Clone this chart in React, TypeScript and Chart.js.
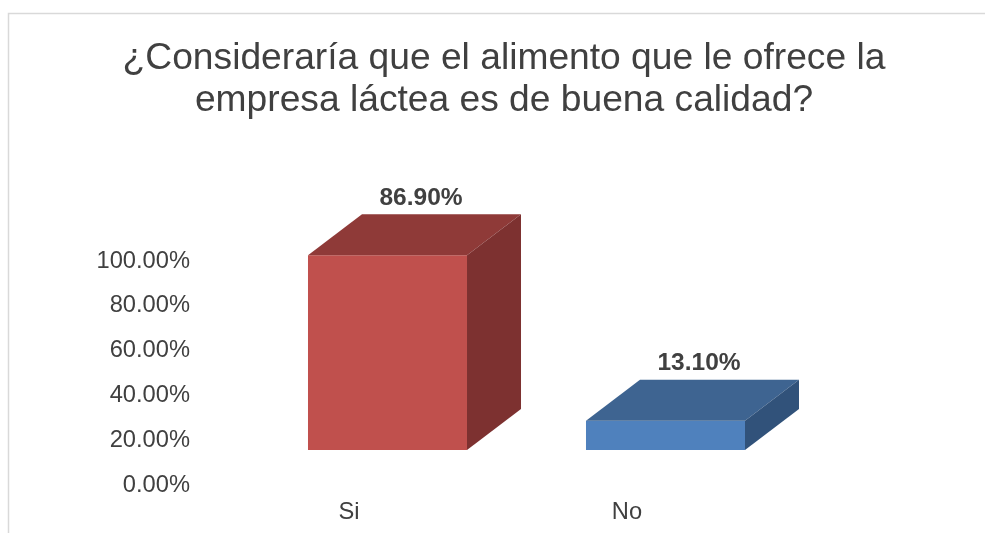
import React, { useEffect, useRef } from "react";
import { Chart, registerables } from "chart.js";

Chart.register(...registerables);

const titleLines = ["¿Consideraría que el alimento que le ofrece la", "empresa láctea es de buena calidad?"];
const categories = ["Si", "No"];
const values = [86.9, 13.1];
const frontColors = ["#C0504D", "#4F81BD"];
const topColors = ["#8F3A38", "#3E6491"];
const sideColors = ["#7D3130", "#31527A"];
const tickStep = 20;
const axisMax = 100;

const DEPTH_X = 54;
const DEPTH_Y = 41;
const FONT = "'Liberation Sans', Arial, sans-serif";
const TEXT = "#404040";

const bar3d = {
  id: "bar3d",
  beforeDraw(chart: any) {
    const { ctx } = chart;
    ctx.save();
    ctx.strokeStyle = "#D9D9D9";
    ctx.lineWidth = 1.5;
    ctx.beginPath();
    ctx.moveTo(8.5, 533);
    ctx.lineTo(8.5, 13.5);
    ctx.lineTo(985, 13.5);
    ctx.stroke();
    ctx.restore();
  },
  afterDatasetsDraw(chart: any) {
    const { ctx } = chart;
    const meta = chart.getDatasetMeta(0);
    meta.data.forEach((bar: any, i: number) => {
      const left = bar.x - bar.width / 2;
      const right = bar.x + bar.width / 2;
      const top = bar.y;
      const base = bar.base;
      ctx.save();
      ctx.fillStyle = topColors[i];
      ctx.beginPath();
      ctx.moveTo(left, top);
      ctx.lineTo(left + DEPTH_X, top - DEPTH_Y);
      ctx.lineTo(right + DEPTH_X, top - DEPTH_Y);
      ctx.lineTo(right, top);
      ctx.closePath();
      ctx.fill();
      ctx.fillStyle = sideColors[i];
      ctx.beginPath();
      ctx.moveTo(right, top);
      ctx.lineTo(right + DEPTH_X, top - DEPTH_Y);
      ctx.lineTo(right + DEPTH_X, base - DEPTH_Y);
      ctx.lineTo(right, base);
      ctx.closePath();
      ctx.fill();
      ctx.fillStyle = TEXT;
      ctx.font = `bold 24.5px ${FONT}`;
      ctx.textAlign = "center";
      ctx.textBaseline = "middle";
      ctx.fillText(`${values[i].toFixed(2)}%`, bar.x + 33.5, top - 57);
      ctx.restore();
    });
  },
};

export default function App() {
  const ref = useRef<HTMLCanvasElement>(null);
  useEffect(() => {
    document.body.style.margin = "0";
    const chart = new Chart(ref.current!, {
      type: "bar",
      data: {
        labels: categories,
        datasets: [
          {
            data: values,
            backgroundColor: frontColors,
            borderWidth: 0,
            barPercentage: 0.572,
            categoryPercentage: 1,
          },
        ],
      },
      plugins: [bar3d],
      options: {
        responsive: false,
        animation: false,
        layout: { padding: { left: 23, right: 0, top: 0, bottom: 0 } },
        plugins: {
          legend: { display: false },
          tooltip: { enabled: false },
          title: {
            display: true,
            text: titleLines,
            color: TEXT,
            font: { family: FONT, size: 37.2, weight: "normal", lineHeight: 42 / 37.2 },
            padding: { top: 38, bottom: 104 },
          },
        },
        scales: {
          x: {
            grid: { display: false },
            border: { display: false },
            afterFit(scale: any) {
              scale.height = 83;
            },
            ticks: {
              color: TEXT,
              font: { family: FONT, size: 23.7 },
              labelOffset: -38.5,
              padding: 40,
              maxRotation: 0,
            },
          },
          y: {
            min: 0,
            max: axisMax,
            grid: { display: false, drawTicks: false },
            border: { display: false },
            afterFit(scale: any) {
              scale.width = 225.5;
            },
            ticks: {
              stepSize: tickStep,
              color: TEXT,
              font: { family: FONT, size: 23.7 },
              labelOffset: 35,
              padding: 58.5,
              callback: (v: any) => `${Number(v).toFixed(2)}%`,
            },
          },
          reserve: {
            position: "right",
            grid: { display: false, drawTicks: false },
            border: { display: false },
            ticks: { display: false },
            afterFit(scale: any) {
              scale.width = 180.5;
            },
          },
        },
      } as any,
    });
    return () => chart.destroy();
  }, []);
  return <canvas ref={ref} width={985} height={533} style={{ display: "block" }} />;
}
